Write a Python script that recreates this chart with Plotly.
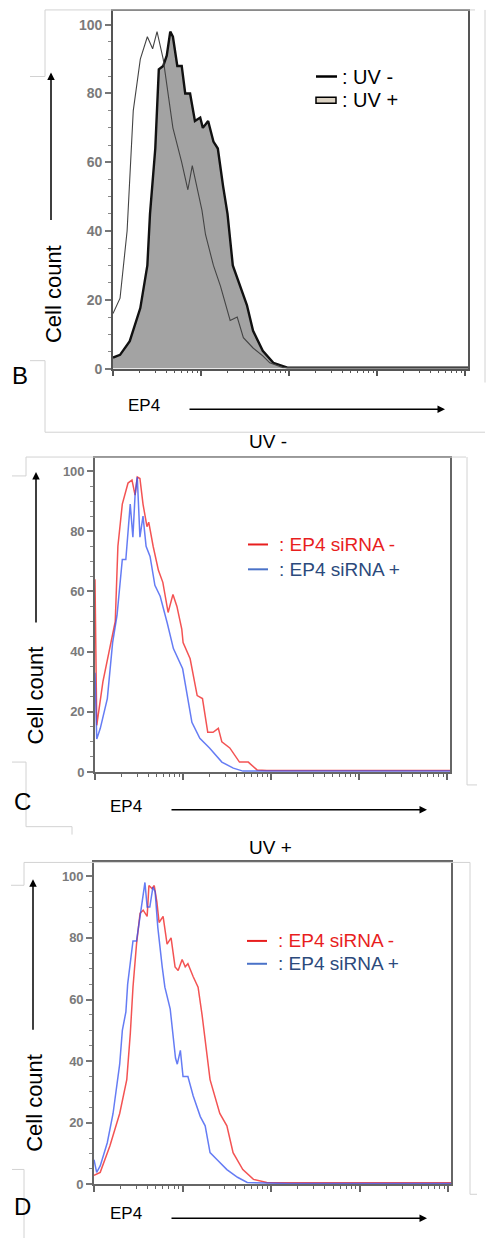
import numpy as np
import plotly.graph_objects as go

W, H = 491, 1246
FONT = "Liberation Sans, Arial, sans-serif"

# ---------------- data (x = log10 EP4 intensity, y = cell count) ----------------
uvm_x = [0, 0.08, 0.16, 0.23, 0.31, 0.39, 0.45, 0.5, 0.57, 0.61, 0.68, 0.78, 0.85, 0.9, 0.95,
         1.01, 1.05, 1.14, 1.22, 1.33, 1.41, 1.48, 1.59, 1.7, 1.78, 1.93, 2.2, 2.6, 3.0, 3.4, 3.8, 4.03]
uvm_y = [16, 20.5, 40, 75, 90, 96.5, 93, 98, 90, 83, 70, 60, 52, 59, 53,
         46, 39, 30, 24, 14, 15, 9, 6, 3.7, 1.7, 0.3, 0.3, 0.3, 0.3, 0.3, 0.3, 0.3]

uvp_x = [0, 0.08, 0.19, 0.31, 0.39, 0.42, 0.48, 0.52, 0.57, 0.61, 0.65, 0.68, 0.73, 0.78, 0.82,
         0.875, 0.93, 0.99, 1.02, 1.08, 1.14, 1.19, 1.25, 1.3, 1.36, 1.44, 1.52, 1.59, 1.7, 1.82,
         1.98, 2.4, 2.8, 3.2, 3.6, 4.03]
uvp_y = [3.2, 4, 8, 17.6, 30, 45, 64, 87, 88, 91, 98, 96.5, 88, 88, 80,
         80, 72, 73, 70, 72, 66, 64, 53, 45, 30, 24, 18.5, 11, 5.2, 1.7,
         0.3, 0.3, 0.3, 0.3, 0.3, 0.3]

c_neg_x = [0, 0.02, 0.09, 0.17, 0.23, 0.26, 0.31, 0.375, 0.42, 0.455, 0.48, 0.51, 0.545, 0.59, 0.61,
           0.66, 0.72, 0.77, 0.83, 0.885, 0.93, 0.985, 1.0, 1.08, 1.16, 1.22, 1.28, 1.34, 1.4, 1.44,
           1.53, 1.64, 1.74, 1.84, 1.95, 2.4, 2.8, 3.2, 3.6, 4.03]
c_neg_y = [64, 15.5, 30, 41, 50, 75, 89, 96, 97, 92, 98, 97.5, 89, 81.5, 83,
           75, 67, 63, 53, 59, 55, 47.5, 43, 37.6, 25.4, 24.4, 13.2, 13.2, 14.5, 10,
           8, 3.3, 3.3, 0.7, 0.5, 0.5, 0.5, 0.5, 0.5, 0.5]

c_pos_x = [0, 0.02, 0.06, 0.14, 0.2, 0.25, 0.31, 0.35, 0.4, 0.43, 0.455, 0.48, 0.51, 0.545, 0.58,
           0.625, 0.68, 0.74, 0.82, 0.89, 0.995, 1.05, 1.1, 1.19, 1.3, 1.44, 1.57, 1.68, 2.2, 2.6,
           3.0, 3.4, 3.8, 4.03]
c_pos_y = [33, 11, 14.5, 24.4, 43, 52, 70.6, 70.6, 89, 78, 92, 98, 78, 85, 75,
           71.6, 62, 58.4, 49.5, 41, 34.3, 24.4, 16.5, 11.2, 8, 3.3, 1.3, 0.3, 0.3, 0.3,
           0.3, 0.3, 0.3, 0.3]

d_neg_x = [0, 0.07, 0.18, 0.29, 0.37, 0.41, 0.44, 0.48, 0.52, 0.555, 0.6, 0.62, 0.655, 0.68, 0.71,
           0.735, 0.78, 0.825, 0.87, 0.915, 0.95, 0.995, 1.03, 1.06, 1.12, 1.175, 1.22, 1.26, 1.31,
           1.42, 1.5, 1.57, 1.68, 1.8, 1.95, 2.4, 2.8, 3.2, 3.6, 4.03]
d_neg_y = [2.9, 3.9, 12.5, 23, 34, 49, 64, 78, 88, 89, 87, 97, 96, 97, 91.6,
           85, 87, 78, 80, 70.6, 69.4, 73, 70.6, 71.6, 67.4, 64, 55, 45, 34,
           23, 19, 10.3, 4.8, 1.6, 0.6, 0.5, 0.5, 0.5, 0.5, 0.5]

d_pos_x = [0, 0.03, 0.07, 0.15, 0.215, 0.29, 0.32, 0.36, 0.38, 0.44, 0.48, 0.52, 0.55, 0.575, 0.6,
           0.63, 0.665, 0.69, 0.72, 0.77, 0.8, 0.86, 0.89, 0.92, 0.94, 0.975, 1.005, 1.06, 1.12,
           1.2, 1.255, 1.31, 1.39, 1.5, 1.62, 1.73, 2.2, 2.6, 3.0, 3.4, 3.8, 4.03]
d_pos_y = [8, 3.9, 6, 13.5, 23, 39, 50, 56, 65, 79, 79, 88, 93, 98, 90,
           90, 96.5, 95, 83.5, 70.6, 64, 57, 48, 41, 39, 43.5, 35, 35, 28.7,
           22, 19, 10.3, 8, 4.8, 2.3, 0.6, 0.3, 0.3, 0.3, 0.3, 0.3, 0.3]

y_ticks = [0, 20, 40, 60, 80, 100]
x_major = [0, 1, 2, 3, 4]
x_minor = [d + np.log10(k) for d in range(4) for k in range(2, 10)]

RED = "rgba(240,40,40,0.8)"
BLUE = "rgba(50,80,240,0.75)"

# ---------------- figure ----------------
fig = go.Figure()

fig.add_trace(go.Scatter(x=uvp_x, y=uvp_y, mode="lines", fill="tozeroy",
                         fillcolor="#a3a3a3", line=dict(color="#111", width=2.4),
                         xaxis="x", yaxis="y", showlegend=False))
fig.add_trace(go.Scatter(x=uvm_x, y=uvm_y, mode="lines",
                         line=dict(color="#444", width=1.1),
                         xaxis="x", yaxis="y", showlegend=False))

fig.add_trace(go.Scatter(x=c_neg_x, y=c_neg_y, mode="lines", line=dict(color=RED, width=1.5),
                         xaxis="x2", yaxis="y2", showlegend=False))
fig.add_trace(go.Scatter(x=c_pos_x, y=c_pos_y, mode="lines", line=dict(color=BLUE, width=1.5),
                         xaxis="x2", yaxis="y2", showlegend=False))

fig.add_trace(go.Scatter(x=d_neg_x, y=d_neg_y, mode="lines", line=dict(color=RED, width=1.5),
                         xaxis="x3", yaxis="y3", showlegend=False))
fig.add_trace(go.Scatter(x=d_pos_x, y=d_pos_y, mode="lines", line=dict(color=BLUE, width=1.5),
                         xaxis="x3", yaxis="y3", showlegend=False))


def xax(left, right, anchor, lc):
    return dict(domain=[left / W, right / W], range=[0, 4.03], anchor=anchor,
                showline=True, mirror=True, linecolor=lc, linewidth=1.6,
                ticks="outside", ticklen=6, tickwidth=1.5, tickcolor=lc,
                tickmode="array", tickvals=x_major, showticklabels=False,
                showgrid=False, zeroline=False, fixedrange=True,
                minor=dict(tickmode="array", tickvals=x_minor, ticks="outside",
                           ticklen=3, tickwidth=1, tickcolor=lc, showgrid=False))


def yax(top, bottom, ymax, anchor, lc, fs):
    return dict(domain=[1 - bottom / H, 1 - top / H], range=[0, ymax], anchor=anchor,
                showline=True, mirror=True, linecolor=lc, linewidth=1.6,
                ticks="outside", ticklen=6, tickwidth=1.5, tickcolor="#777",
                tickmode="array", tickvals=y_ticks,
                tickfont=dict(family=FONT, size=fs, color="#7a7a7a", weight="bold"),
                showgrid=False, zeroline=False, fixedrange=True,
                minor=dict(dtick=5, ticks="outside", ticklen=3, tickwidth=1,
                           tickcolor="#888", showgrid=False))


shapes = []
annotations = []


def L(x0, y0, x1, y1, color="#d2d2d2", width=1):
    shapes.append(dict(type="line", xref="paper", yref="paper",
                       x0=x0 / W, y0=1 - y0 / H, x1=x1 / W, y1=1 - y1 / H,
                       line=dict(color=color, width=width)))


def T(x, y, text, size, color="#000", xanchor="center", angle=0):
    annotations.append(dict(xref="paper", yref="paper", x=x / W, y=1 - y / H, text=text,
                            showarrow=False, xanchor=xanchor, yanchor="middle",
                            textangle=angle, font=dict(family=FONT, size=size, color=color)))


def arrow(x0, y0, x1, y1):
    annotations.append(dict(xref="paper", yref="paper", x=x1 / W, y=1 - y1 / H, text="",
                            showarrow=True, ax=x0 - x1, ay=y0 - y1, axref="pixel", ayref="pixel",
                            arrowhead=2, arrowsize=1, arrowwidth=1.5, arrowcolor="#000",
                            standoff=0, startstandoff=0))


# light frame edges of the pasted panels
L(45, 10, 475, 10); L(45, 10, 45, 77); L(30, 77, 45, 77); L(485, 10, 485, 385)
L(30, 363, 45, 363); L(45, 363, 45, 435); L(45, 435, 485, 435)

L(26, 460, 466, 460); L(26, 460, 26, 479); L(12, 479, 26, 479)
L(467, 460, 467, 790); L(467, 790, 477, 790)
L(12, 767, 26, 767); L(26, 767, 26, 832); L(26, 832, 72, 832); L(72, 832, 72, 840)

L(24, 868, 470, 868); L(24, 868, 24, 891); L(11, 891, 24, 891)
L(470, 868, 470, 1202); L(470, 1202, 477, 1202)
L(12, 1177, 24, 1177); L(24, 1177, 24, 1246)

# ----- panel B texts -----
T(53, 296, "Cell count", 22, angle=-90)
arrow(51, 222, 51, 73)
T(20, 378, "B", 24)
T(144, 408, "EP4", 17)
arrow(188, 412, 445, 412)
L(316, 77, 337, 77, color="#000", width=2.5)
shapes.append(dict(type="rect", xref="paper", yref="paper", x0=316 / W, x1=336 / W,
                   y0=1 - 104 / H, y1=1 - 98 / H, fillcolor="#dcd3c4",
                   line=dict(color="#000", width=1.5)))
T(340, 77, ": UV -", 20, xanchor="left")
T(340, 101, ": UV +", 20, xanchor="left")

# ----- panel C texts -----
T(268, 444, "UV -", 19)
T(36, 700, "Cell count", 22, angle=-90)
arrow(36, 627, 36, 475)
T(22, 807, "C", 24)
T(126, 812, "EP4", 17)
arrow(170, 815, 427, 815)
L(248, 548, 268, 548, color="#e81e1e", width=2)
L(248, 573, 268, 573, color="#4a72c8", width=2)
T(277, 548, ": EP4 siRNA -", 19, color="#e81e1e", xanchor="left")
T(277, 573, ": EP4 siRNA +", 19, color="#2c4a7c", xanchor="left")

# ----- panel D texts -----
T(270, 853, "UV +", 19)
T(35, 1110, "Cell count", 22, angle=-90)
arrow(33, 1037, 33, 885)
T(22, 1214, "D", 24)
T(126, 1221, "EP4", 17)
arrow(170, 1226, 427, 1226)
L(247, 947, 267, 947, color="#e81e1e", width=2)
L(247, 970, 267, 970, color="#4a72c8", width=2)
T(276, 947, ": EP4 siRNA -", 19, color="#e81e1e", xanchor="left")
T(276, 970, ": EP4 siRNA +", 19, color="#2c4a7c", xanchor="left")

fig.update_layout(
    width=W, height=H, margin=dict(l=0, r=0, t=0, b=0),
    paper_bgcolor="white", plot_bgcolor="white", showlegend=False,
    font=dict(family=FONT),
    xaxis=xax(113, 468, "y", "#555"),
    yaxis=yax(11, 371, 104, "x", "#555", 14),
    xaxis2=xax(95, 450, "y2", "#666"),
    yaxis2=yax(461, 777, 104.3, "x2", "#666", 13),
    xaxis3=xax(94, 451, "y3", "#666"),
    yaxis3=yax(868, 1192, 104.5, "x3", "#666", 13),
    shapes=shapes, annotations=annotations,
)

fig.write_html("out.html", config={"displayModeBar": False},
               post_script="document.body.style.margin='0';document.body.style.padding='0';"
                           "document.documentElement.style.overflow='hidden';")
